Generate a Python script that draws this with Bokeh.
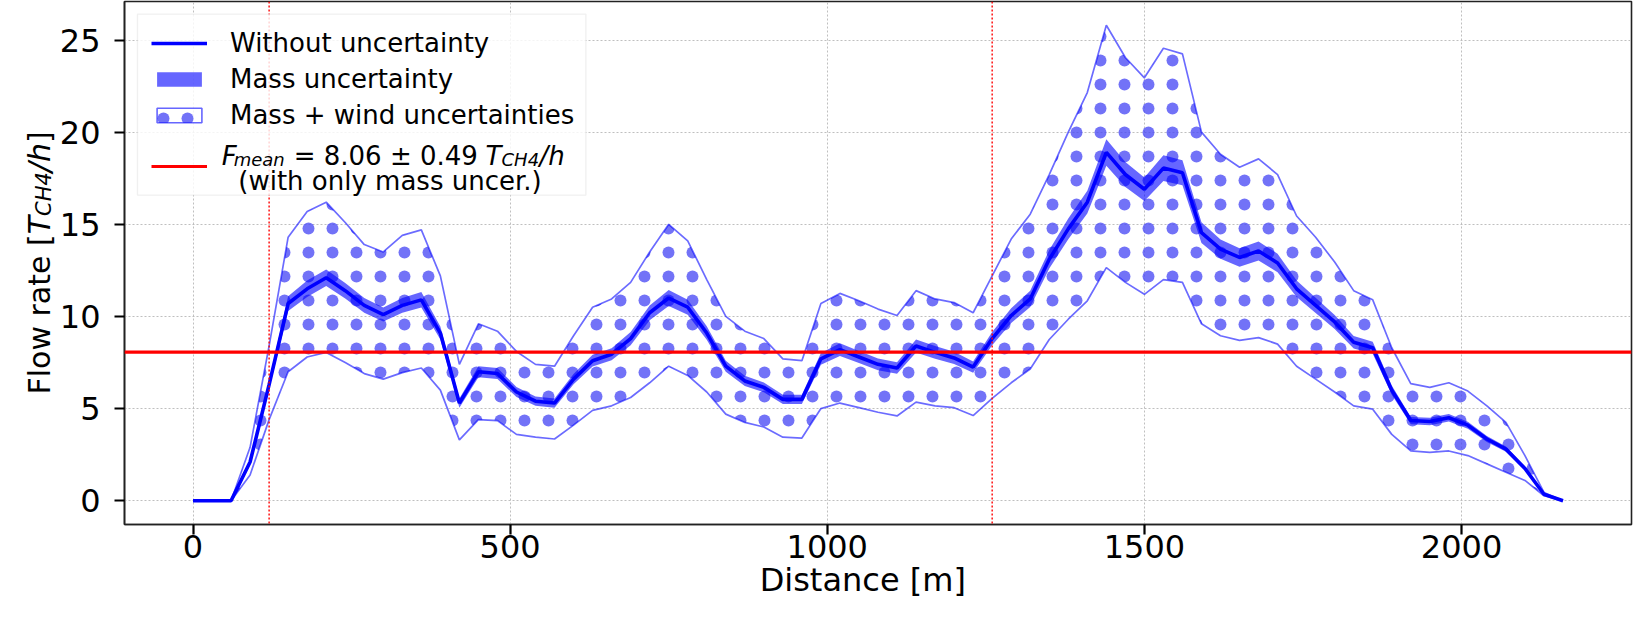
from bokeh.plotting import figure
from bokeh.layouts import row
from bokeh.models import (Range1d, FixedTicker, Legend, LegendItem, Label, Span,
                          BoxAnnotation, LinearAxis)
from bokeh.embed import file_html
from bokeh.resources import INLINE
import math

# ---------------- data ----------------
distance = [0, 30, 60, 90, 120, 150, 180, 210, 240, 270, 300, 330, 360, 390, 420,
            450, 480, 510, 540, 570, 600, 630, 660, 690, 720, 750, 780, 810, 840,
            870, 900, 930, 960, 990, 1020, 1050, 1080, 1110, 1140, 1170, 1200,
            1230, 1260, 1290, 1320, 1350, 1380, 1410, 1440, 1470, 1500, 1530,
            1560, 1590, 1620, 1650, 1680, 1710, 1740, 1770, 1800, 1830, 1860,
            1890, 1920, 1950, 1980, 2010, 2040, 2070, 2100, 2130, 2160]

flow = [0, 0, 0, 2.1, 6.3, 10.7, 11.5, 12.1, 11.4, 10.6, 10.1, 10.6, 10.9, 9.1,
        5.3, 7.0, 6.9, 5.9, 5.4, 5.3, 6.6, 7.6, 7.95, 8.8, 10.2, 11.0, 10.5, 9.1,
        7.3, 6.5, 6.15, 5.5, 5.5, 7.7, 8.2, 7.8, 7.4, 7.2, 8.4, 8.05, 7.75, 7.25,
        8.8, 10.05, 10.95, 13.1, 14.75, 16.2, 18.9, 17.7, 16.9, 18.05, 17.8, 14.55,
        13.65, 13.2, 13.55, 12.9, 11.5, 10.6, 9.7, 8.6, 8.3, 6.0, 4.35, 4.3, 4.5,
        4.1, 3.35, 2.8, 1.75, 0.35, 0]

mass_err = [0, 0, 0, 0.1, 0.25, 0.4, 0.45, 0.45, 0.42, 0.4, 0.38, 0.4, 0.42, 0.35,
            0.25, 0.3, 0.3, 0.27, 0.25, 0.25, 0.28, 0.32, 0.33, 0.36, 0.4, 0.43,
            0.41, 0.37, 0.3, 0.28, 0.27, 0.25, 0.25, 0.32, 0.35, 0.33, 0.32, 0.31,
            0.35, 0.34, 0.33, 0.31, 0.36, 0.4, 0.44, 0.5, 0.56, 0.62, 0.72, 0.68,
            0.64, 0.7, 0.68, 0.56, 0.52, 0.5, 0.52, 0.5, 0.45, 0.41, 0.38, 0.34,
            0.33, 0.25, 0.2, 0.2, 0.2, 0.19, 0.16, 0.14, 0.1, 0.03, 0]

wind_upper = [0, 0, 0, 2.9, 8.4, 14.3, 15.7, 16.2, 15.1, 13.9, 13.5, 14.4, 14.7,
              12.2, 7.4, 9.6, 9.2, 8.1, 7.4, 7.3, 8.95, 10.5, 10.95, 11.85, 13.5,
              15.0, 14.1, 12.0, 10.0, 9.2, 8.8, 7.7, 7.6, 10.7, 11.25, 10.85, 10.4,
              10.05, 11.4, 10.95, 10.75, 10.2, 12.2, 14.2, 15.55, 17.7, 20.0, 22.15,
              25.8, 24.05, 22.95, 24.55, 24.25, 20.0, 18.8, 18.1, 18.55, 17.7, 15.45,
              14.3, 12.95, 11.4, 10.9, 8.3, 6.35, 6.15, 6.4, 5.95, 5.15, 4.25, 2.45,
              0.45, 0]

wind_lower = [0, 0, 0, 1.4, 4.4, 7.0, 7.8, 8.05, 7.5, 6.9, 6.6, 6.95, 7.2, 6.0,
              3.3, 4.4, 4.35, 3.6, 3.45, 3.35, 4.1, 4.9, 5.15, 5.6, 6.4, 7.3, 6.8,
              5.9, 4.7, 4.25, 4.0, 3.45, 3.4, 5.0, 5.3, 5.05, 4.8, 4.6, 5.35, 5.15,
              5.05, 4.62, 5.55, 6.4, 7.15, 8.75, 9.85, 10.85, 12.65, 11.85, 11.2,
              12.0, 11.85, 9.6, 8.95, 8.7, 8.85, 8.5, 7.3, 6.6, 5.9, 5.15, 4.97, 3.6,
              2.7, 2.62, 2.7, 2.45, 2.0, 1.55, 1.1, 0.27, 0]

f_mean = 8.06
f_mean_err = 0.49
transect_limits = [120, 1260]

x_ticks = [0, 500, 1000, 1500, 2000]
y_ticks = [0, 5, 10, 15, 20, 25]

legend_labels = ["Without uncertainty", "Mass uncertainty", "Mass + wind uncertainties",
                 "\u00a0\n (with only mass uncer.)"]
x_title = "Distance [m]"

mass_lo = [f - e for f, e in zip(flow, mass_err)]
mass_hi = [f + e for f, e in zip(flow, mass_err)]

# ---------------- layout constants ----------------
X0, X1 = -108, 2268
Y0, Y1 = -1.29, 27.09
TOTAL_W, H = 1633, 606
W_TITLE = 56                       # left strip: rotated y-axis title
W = TOTAL_W - W_TITLE
BL, BR, BT, BB = 123 - W_TITLE, 2, 1, 82
FONT = "DejaVu Sans"

p = figure(width=W, height=H, output_backend="svg", toolbar_location=None,
           x_range=Range1d(X0, X1), y_range=Range1d(Y0, Y1),
           min_border_left=BL, min_border_right=BR, min_border_top=BT,
           min_border_bottom=BB)
p.background_fill_color = "white"
p.border_fill_color = "white"
p.outline_line_color = "#222222"
p.outline_line_width = 1.6

FW = W - BL - BR
FH = H - BT - BB
PAGE_FRAME_LEFT = 8 + W_TITLE + BL
PAGE_FRAME_TOP = 8 + BT
PAGE_FRAME_BOTTOM = 8 + H - BB


def X(px):
    """page x pixel -> data x (text / box placement only)"""
    return X0 + (px - PAGE_FRAME_LEFT) * (X1 - X0) / FW


def Y(py):
    return Y1 - (py - PAGE_FRAME_TOP) * (Y1 - Y0) / FH


BLUE = "#0000ff"
DOT = "#4a4af5"
HATCH = dict(hatch_pattern=".", hatch_color=DOT, hatch_alpha=0.78, hatch_scale=24,
             hatch_weight=1)

# wind (mass + wind) band with dot hatch
p.varea(x=distance, y1=wind_lower, y2=wind_upper, fill_color=None, **HATCH)
p.line(distance, wind_upper, line_color=BLUE, line_alpha=0.58, line_width=1.7)
p.line(distance, wind_lower, line_color=BLUE, line_alpha=0.58, line_width=1.7)

r_mass = p.varea(x=distance, y1=mass_lo, y2=mass_hi, fill_color=BLUE, fill_alpha=0.6)
r_main = p.line(distance, flow, line_color=BLUE, line_width=3.6)

# hidden renderers used only for the legend handles
r_wind_handle = p.quad(left=distance[:-1], right=distance[1:], bottom=wind_lower[:-1],
                       top=wind_upper[:-1], fill_color=None, line_color=BLUE,
                       line_alpha=0.6, line_width=1.6, visible=False, **HATCH)
r_mean_handle = p.line(distance, flow, line_color="#ff0000", line_width=3.2, visible=False)

for xv in transect_limits:
    p.add_layout(Span(location=xv, dimension="height", line_color="#ff0000",
                      line_width=1.4, line_dash="2 2"))

# legend background (drawn separately so that texts can sit above it)
p.add_layout(BoxAnnotation(left=X(144), right=X(592.7), top=Y(21.7), bottom=Y(202.7),
                           fill_color="white", fill_alpha=0.82, line_color="#cccccc",
                           line_width=1.3))

p.add_layout(Span(location=f_mean, dimension="width", line_color="#ff0000", line_width=3.2))

# ---------------- axes ----------------
p.xaxis.ticker = FixedTicker(ticks=x_ticks)
p.yaxis.ticker = FixedTicker(ticks=y_ticks)
for ax in (p.xaxis, p.yaxis):
    ax.major_label_text_font = FONT
    ax.major_label_text_font_size = "32px"
    ax.major_label_text_color = "black"
    ax.major_tick_in = 0
    ax.major_tick_out = 10
    ax.major_tick_line_width = 2.2
    ax.major_tick_line_color = "black"
    ax.minor_tick_in = 0
    ax.minor_tick_out = 0
    ax.axis_line_color = "#222222"
    ax.axis_line_width = 1.6
p.xaxis.major_label_standoff = 0
p.yaxis.major_label_standoff = 14

p.xgrid.grid_line_color = "#b8b8b8"
p.ygrid.grid_line_color = "#b8b8b8"
p.xgrid.grid_line_dash = "2 2"
p.ygrid.grid_line_dash = "2 2"
p.xgrid.grid_line_width = 0.9
p.ygrid.grid_line_width = 0.9

# x-axis title: a second, tick-less axis below whose single label is the title
title_pos = int(round(X(870)))
title_axis = LinearAxis(ticker=FixedTicker(ticks=[title_pos]),
                        major_label_overrides={title_pos: x_title},
                        major_label_text_font=FONT, major_label_text_font_size="32px",
                        major_label_text_color="black", major_label_standoff=0,
                        major_tick_in=0, major_tick_out=0, minor_tick_in=0,
                        minor_tick_out=0, axis_line_color=None)
p.add_layout(title_axis, "below")

# ---------------- legend ----------------
legend = Legend(items=[
    LegendItem(label=legend_labels[0], renderers=[r_main]),
    LegendItem(label=legend_labels[1], renderers=[r_mass]),
    LegendItem(label=legend_labels[2], renderers=[r_wind_handle]),
    LegendItem(label=legend_labels[3], renderers=[r_mean_handle]),
], location="top_left", margin=27, padding=8, spacing=6, glyph_width=56,
    glyph_height=18, label_standoff=23, label_text_font=FONT,
    label_text_font_size="26px", label_text_color="black",
    border_line_color=None, background_fill_alpha=0)
p.add_layout(legend)


def label(text, px, py, size, style="normal"):
    p.add_layout(Label(x=X(px), y=Y(py), text=text, text_font=FONT,
                       text_font_size=f"{size}px", text_font_style=style,
                       text_align="left", text_baseline="alphabetic",
                       text_color="black"))


# first line of the 4th legend entry (math-style text)
LX, LY = 228.3, 163.0
label("F", LX, LY, 26, "italic")
label("mean", LX + 12, LY + 3.5, 18, "italic")
label("= %.2f \u00b1 %.2f" % (f_mean, f_mean_err), LX + 72, LY, 26)
label("T", LX + 264, LY, 26, "italic")
label("CH4", LX + 280, LY + 3.5, 18, "italic")
label("/h", LX + 318, LY, 26, "italic")

# ---------------- rotated y-axis title strip ----------------
t = figure(width=W_TITLE, height=H, output_backend="svg", toolbar_location=None,
           x_range=Range1d(0, 1), y_range=Range1d(0, 1),
           x_axis_type=None, y_axis_type=None, title=None,
           min_border_left=0, min_border_right=0, min_border_top=BT,
           min_border_bottom=BB)
t.outline_line_color = None
t.background_fill_color = "white"
t.border_fill_color = "white"
t.xgrid.visible = False
t.ygrid.visible = False

A = math.pi / 2


def vlabel(text, px, py, size, style="normal"):
    # screen units: pixels from the frame's bottom-left corner
    t.add_layout(Label(x=px - 8, y=PAGE_FRAME_BOTTOM - py, x_units="screen",
                       y_units="screen", text=text, angle=A, text_font=FONT,
                       text_font_size=f"{size}px", text_font_style=style,
                       text_align="left", text_baseline="alphabetic",
                       text_color="black"))


Y_START = (PAGE_FRAME_TOP + PAGE_FRAME_BOTTOM) / 2 + 131.5
vlabel("Flow rate [", 47, Y_START, 30)
vlabel("T", 47, Y_START - 160.2, 30, "italic")
vlabel("CH4", 51, Y_START - 178.5, 21, "italic")
vlabel("/h", 47, Y_START - 222.3, 30, "italic")
vlabel("]", 47, Y_START - 251.4, 30)

layout = row(t, p, spacing=0)
open("out.html", "w").write(file_html(layout, INLINE))
